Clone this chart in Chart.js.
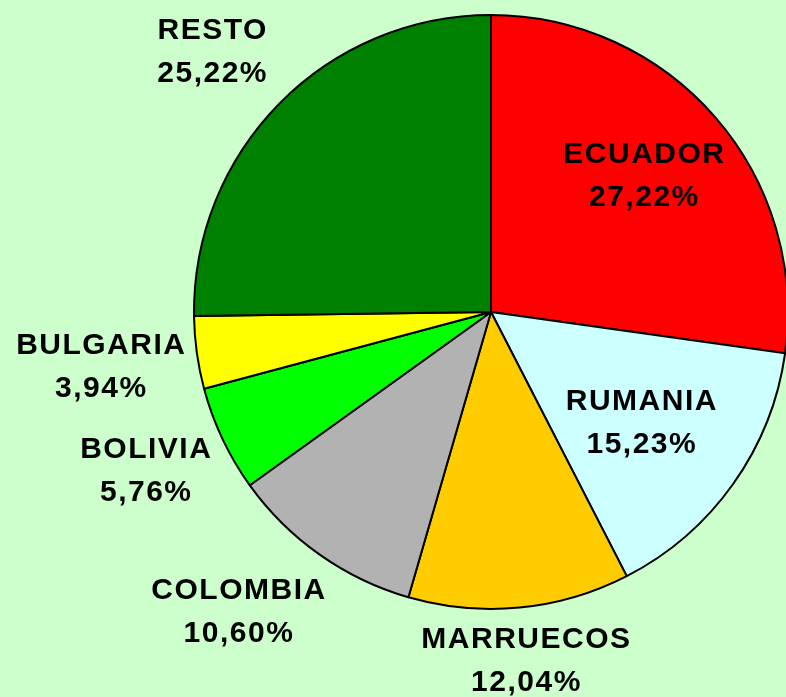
<!DOCTYPE html>
<html>
<head>
<meta charset="utf-8">
<script src="https://cdn.jsdelivr.net/npm/chart.js@4/dist/chart.umd.min.js"></script>
<style>
  html, body { margin: 0; padding: 0; background: #ccffcc; overflow: hidden; }
  #wrap { width: 786px; height: 697px; overflow: hidden; position: relative; }
</style>
</head>
<body>
<div id="wrap"><canvas id="pieChart" width="790" height="697"></canvas></div>
<script>
const countries = ['ECUADOR', 'RUMANIA', 'MARRUECOS', 'COLOMBIA', 'BOLIVIA', 'BULGARIA', 'RESTO'];
const shares = [27.22, 15.23, 12.04, 10.60, 5.76, 3.94, 25.22];
const sliceColors = ['#ff0000', '#ccffff', '#ffcc00', '#b2b2b2', '#00ff00', '#ffff00', '#008000'];
// label placement: distance from centre (fraction of radius) and a small angle nudge (deg)
const labelDist = [0.695, 0.627, 1.176, 1.314, 1.276, 1.324, 1.288];
const labelTurn = [-1.0, 0.5, -0.3, 5.0, 0.8, 0.2, -1.3];

const fmt = v => v.toFixed(2).replace('.', ',') + '%';

const labelPlugin = {
    id: 'sliceLabels',
    afterDatasetsDraw(chart) {
        const ctx = chart.ctx;
        const meta = chart.getDatasetMeta(0);
        ctx.save();
        ctx.font = 'bold 30px "Liberation Sans", Arial, sans-serif';
        ctx.letterSpacing = '1.5px';
        ctx.fillStyle = '#000';
        ctx.textAlign = 'center';
        ctx.textBaseline = 'alphabetic';
        meta.data.forEach((arc, i) => {
            const mid = (arc.startAngle + arc.endAngle) / 2 + labelTurn[i] * Math.PI / 180;
            const r = arc.outerRadius * labelDist[i];
            const x = arc.x + Math.cos(mid) * r;
            const y = arc.y + Math.sin(mid) * r;
            ctx.fillText(countries[i], x, y - 11);
            ctx.fillText(fmt(shares[i]), x, y + 32);
        });
        ctx.restore();
    }
};

new Chart(document.getElementById('pieChart'), {
    type: 'pie',
    data: {
        labels: countries,
        datasets: [{
            data: shares,
            backgroundColor: sliceColors,
            borderColor: '#000',
            borderWidth: 2
        }]
    },
    options: {
        responsive: false,
        animation: false,
        layout: { padding: { left: 193, right: 1, top: 14, bottom: 87 } },
        plugins: { legend: { display: false }, tooltip: { enabled: false } }
    },
    plugins: [labelPlugin]
});
</script>
</body>
</html>
